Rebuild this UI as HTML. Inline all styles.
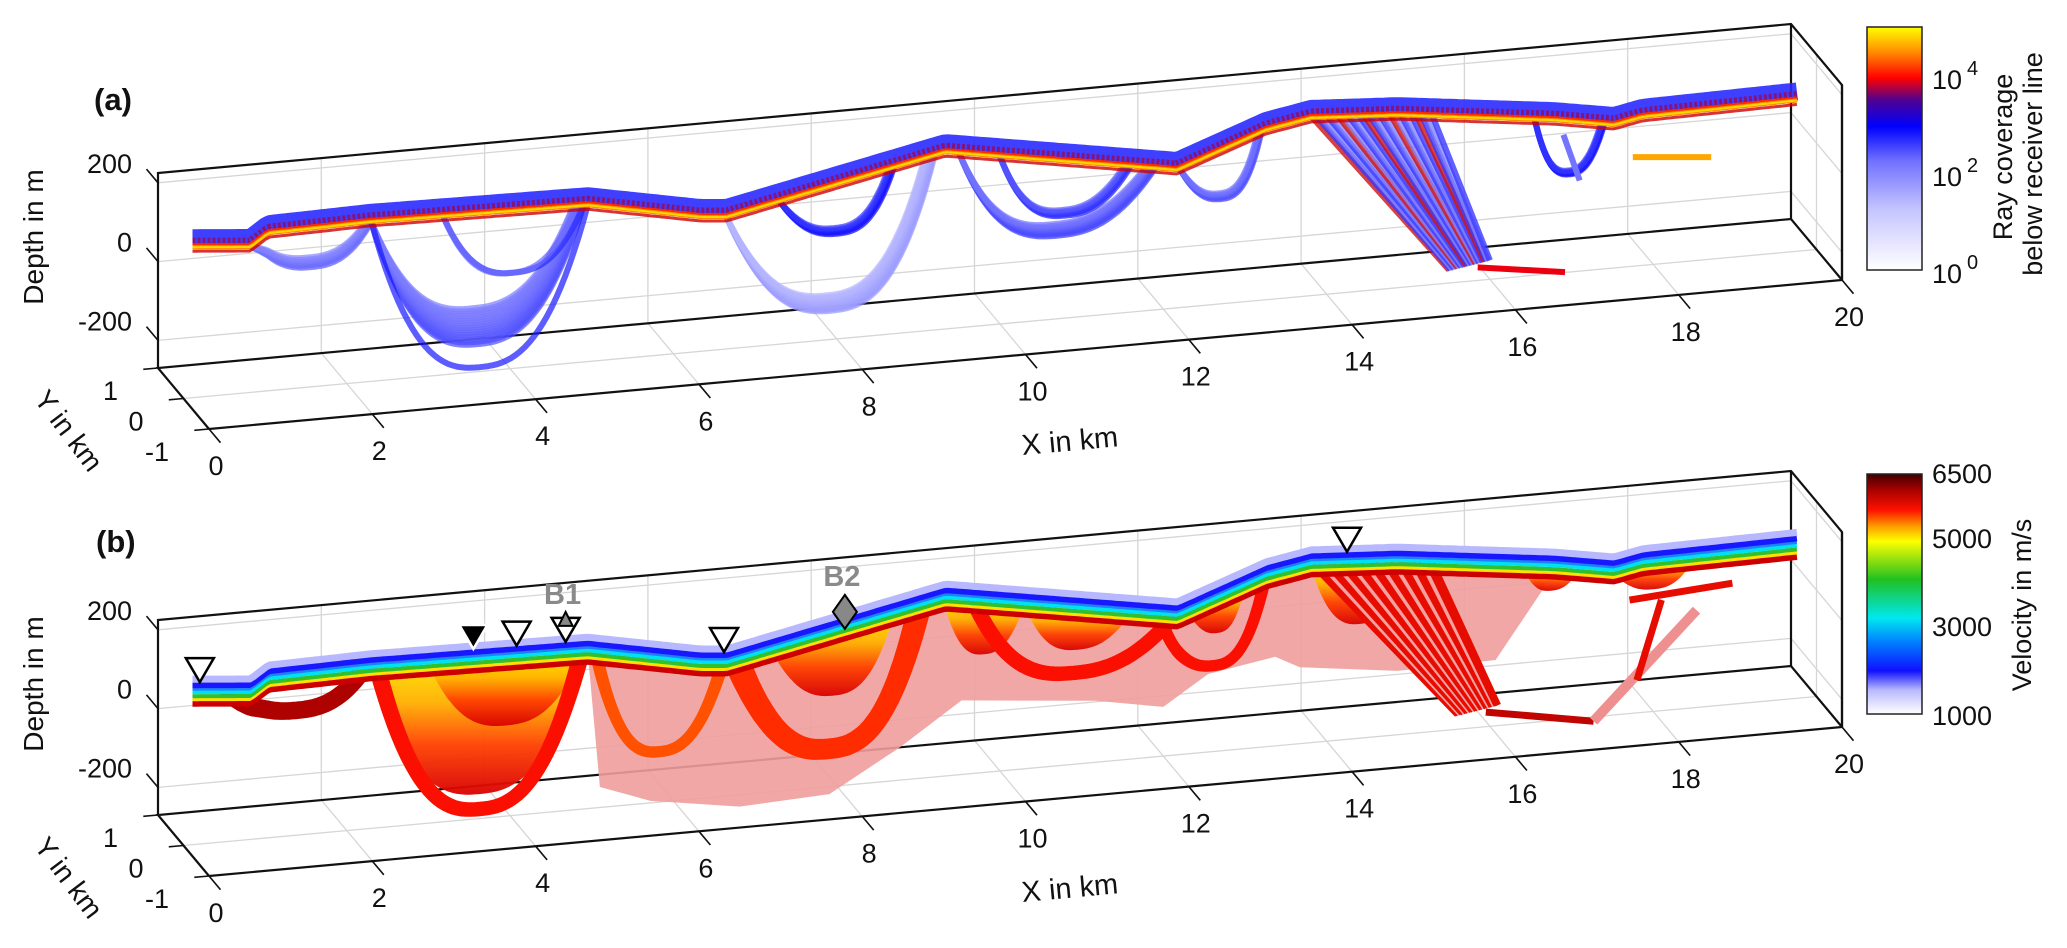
<!DOCTYPE html>
<html>
<head>
<meta charset="utf-8">
<style>
  html,body{margin:0;padding:0;background:#fff;}
  svg{display:block;}
  text{font-family:"Liberation Sans",Arial,sans-serif;fill:#111;}
</style>
</head>
<body>
<svg id="fig" width="2067" height="948" viewBox="0 0 2067 948" xmlns="http://www.w3.org/2000/svg">
  <defs>
    <linearGradient id="cbA" x1="0" y1="1" x2="0" y2="0">
      <stop offset="0" stop-color="#ffffff"/>
      <stop offset="0.25" stop-color="#c4c4ff"/>
      <stop offset="0.45" stop-color="#7070ff"/>
      <stop offset="0.59" stop-color="#0000ff"/>
      <stop offset="0.70" stop-color="#500090"/>
      <stop offset="0.79" stop-color="#ff0000"/>
      <stop offset="0.90" stop-color="#ff9000"/>
      <stop offset="1" stop-color="#ffff00"/>
    </linearGradient>
    <linearGradient id="cbB" x1="0" y1="1" x2="0" y2="0">
      <stop offset="0" stop-color="#ffffff"/>
      <stop offset="0.10" stop-color="#b8b8ff"/>
      <stop offset="0.18" stop-color="#1010ff"/>
      <stop offset="0.30" stop-color="#0080ff"/>
      <stop offset="0.40" stop-color="#00e8f0"/>
      <stop offset="0.56" stop-color="#20c020"/>
      <stop offset="0.72" stop-color="#ffff00"/>
      <stop offset="0.78" stop-color="#ffa000"/>
      <stop offset="0.85" stop-color="#ff1000"/>
      <stop offset="0.94" stop-color="#a00000"/>
      <stop offset="1" stop-color="#400000"/>
    </linearGradient>
    <linearGradient id="hot" x1="0" y1="0" x2="0" y2="1">
      <stop offset="0" stop-color="#ffee00"/>
      <stop offset="0.35" stop-color="#ffb000"/>
      <stop offset="0.65" stop-color="#ff4000"/>
      <stop offset="1" stop-color="#d80000"/>
    </linearGradient>
  </defs>

  <g id="panelA"></g>
  <g id="panelB"></g>

  <text x="94" y="110" font-size="31" font-weight="bold">(a)</text>
  <text x="96" y="552" font-size="31" font-weight="bold">(b)</text>

  <text transform="translate(43,237) rotate(-90)" text-anchor="middle" font-size="28">Depth in m</text>
  <text transform="translate(43,684) rotate(-90)" text-anchor="middle" font-size="28">Depth in m</text>

  <text transform="translate(67,432) rotate(53)" text-anchor="middle" dominant-baseline="middle" font-size="28">Y in km</text>
  <text transform="translate(67,879) rotate(53)" text-anchor="middle" dominant-baseline="middle" font-size="28">Y in km</text>

  <text transform="translate(1070,443) rotate(-5.2)" text-anchor="middle" dominant-baseline="middle" font-size="29">X in km</text>
  <text transform="translate(1070,890) rotate(-5.2)" text-anchor="middle" dominant-baseline="middle" font-size="29">X in km</text>

  <rect x="1867" y="27" width="55" height="243" fill="url(#cbA)" stroke="#222" stroke-width="1.5"/>
  <g font-size="27">
    <text x="1932" y="283">10<tspan font-size="20" dy="-14" dx="5">0</tspan></text>
    <text x="1932" y="186">10<tspan font-size="20" dy="-14" dx="5">2</tspan></text>
    <text x="1932" y="89">10<tspan font-size="20" dy="-14" dx="5">4</tspan></text>
  </g>
  <text transform="translate(2012,157) rotate(-90)" text-anchor="middle" font-size="27">Ray coverage</text>
  <text transform="translate(2042,164) rotate(-90)" text-anchor="middle" font-size="27">below receiver line</text>

  <rect x="1867" y="474" width="55" height="240" fill="url(#cbB)" stroke="#222" stroke-width="1.5"/>
  <g font-size="27">
    <text x="1932" y="483">6500</text>
    <text x="1932" y="548">5000</text>
    <text x="1932" y="636">3000</text>
    <text x="1932" y="725">1000</text>
  </g>
  <text transform="translate(2031,605) rotate(-90)" text-anchor="middle" font-size="27">Velocity in m/s</text>
</svg>

<script>
const surfX = [0.11, 0.82, 1.04, 2.29, 4.95, 6.33, 6.65, 9.33, 12.17, 13.26, 13.81, 14.87, 16.79, 17.52, 17.87, 19.79];
const surfZ = [112, 99, 130, 135, 127, 71, 65, 179, 80, 161, 181, 168, 119, 93, 107, 113];

const xTicks = [0, 2, 4, 6, 8, 10, 12, 14, 16, 18, 20];
const yTicks = [1, 0, -1];
const zTicks = [-200, 0, 200];

const fanAX0 = [0.82, 2.3, 2.3, 3.18, 6.65, 7.3, 9.5, 10.0, 12.2, 16.55];
const fanAX1 = [2.3, 4.9, 4.95, 4.9, 9.2, 8.7, 11.9, 11.6, 13.2, 17.4];
const fanAZb = [34, -200, -259, -27, -197, -3, -59, -10, -4, -22];
const fanASpread = [25, 92, 0, 0, 40, 15, 30, 15, 15, 10];
const fanAN = [6, 16, 1, 2, 12, 5, 8, 5, 5, 5];
const fanALogCov = [2.0, 2.1, 2.4, 2.3, 1.4, 2.6, 2.2, 2.4, 2.2, 2.6];

const rayAX0a = [13.83];
const rayAX0b = [15.3];
const rayAXb = [15.85];
const rayAZb = [-237];
const rayAN = [24];
const rayALogCov = [2.0];

const segAX0 = [15.85, 17.75, 16.9];
const segAX1 = [16.92, 18.71, 17.1];
const segAZ0 = [-237, 7, 80];
const segAZ1 = [-269, -11, -40];
const segALogCov = [3.9, 4.6, 2.2];

const pinkX = [4.95, 5.1, 5.72, 6.81, 7.91, 8.78, 9.53, 11.17, 12.0, 12.55, 13.37, 13.67, 14.87, 16.07, 16.67];
const pinkZ = [127, -218, -265, -300, -289, -186, -82, -114, -145, -72, -44, -76, -108, -103, 71];

const uBX0 = [2.3, 3.0, 7.2, 9.3, 10.3, 12.3, 13.8, 16.4, 17.5];
const uBX1 = [4.95, 4.9, 8.7, 10.3, 11.6, 13.0, 15.0, 17.1, 18.5];
const uBZb = [-208, -40, -40, 30, 20, 30, 20, 60, 40];

const arcBX0 = [0.45, 2.3, 6.65, 5.0, 9.6, 11.9];
const arcBX1 = [2.3, 4.95, 9.14, 6.65, 12.2, 13.3];
const arcBZb = [31, -258, -194, -150, -50, -60];
const arcBV = [6100, 5700, 5600, 5500, 5700, 5700];
const arcBN = [5, 4, 6, 3, 4, 3];

const rayBX0a = [13.83];
const rayBX0b = [15.3];
const rayBXb = [15.95];
const rayBZb = [-233];
const rayBN = [26];
const rayBV = [5800];

const segBX0 = [15.95, 17.27, 17.71, 18.1];
const segBX1 = [17.27, 18.53, 18.97, 17.8];
const segBZ0 = [-233, -281, 18, 11];
const segBZ1 = [-281, -23, 37, -187];
const segBV = [6000, 5300, 5800, 5800];
const segBPale = [0, 1, 0, 0];

const recvX = [0.2, 3.55, 4.08, 4.68, 6.62, 14.25];
const recvType = ['open', 'filled', 'open', 'open', 'open', 'open'];
const boreholeX = [4.68, 8.1];
const boreholeName = ['B1', 'B2'];

const NS = 'http://www.w3.org/2000/svg';
const Z0 = -270, Z1 = 225;
const OFF_B = 447;
function P(x, y, z, off) {
  return [158 + 81.65 * x + 25.5 * (1 - y), 368 + off - 7.45 * x + 30.5 * (1 - y) - (z - Z0) * 0.394];
}
function surfAt(x) {
  if (x <= surfX[0]) return surfZ[0];
  for (let i = 1; i < surfX.length; i++) {
    if (x <= surfX[i]) { const t = (x - surfX[i-1]) / (surfX[i] - surfX[i-1]); return surfZ[i-1] + t * (surfZ[i] - surfZ[i-1]); }
  }
  return surfZ[surfZ.length - 1];
}
function mk(tag, attrs, parent) {
  const e = document.createElementNS(NS, tag);
  for (const k in attrs) e.setAttribute(k, attrs[k]);
  parent.appendChild(e);
  return e;
}
function f(n) { return n.toFixed(1); }
function lineD(pts) { return 'M' + pts.map(p => f(p[0]) + ',' + f(p[1])).join('L'); }
function lerpStops(stops, t) {
  t = Math.max(0, Math.min(1, t));
  for (let i = 1; i < stops.length; i++) {
    if (t <= stops[i][0]) {
      const a = stops[i-1], b = stops[i], u = (t - a[0]) / (b[0] - a[0]);
      const c = a[1].map((v, k) => Math.round(v + u * (b[1][k] - v)));
      return 'rgb(' + c.join(',') + ')';
    }
  }
  return 'rgb(' + stops[stops.length-1][1].join(',') + ')';
}
const stopsA = [[0,[255,255,255]],[0.25,[196,196,255]],[0.45,[112,112,255]],[0.59,[0,0,255]],[0.70,[80,0,144]],[0.79,[255,0,0]],[0.90,[255,144,0]],[1,[255,255,0]]];
const stopsB = [[0,[255,255,255]],[0.10,[184,184,255]],[0.18,[16,16,255]],[0.30,[0,128,255]],[0.40,[0,232,240]],[0.56,[32,192,32]],[0.72,[255,255,0]],[0.78,[255,160,0]],[0.85,[255,16,0]],[0.94,[160,0,0]],[1,[64,0,0]]];
function cmapA(logc) { return lerpStops(stopsA, logc / 5); }
function cmapB(v) { return lerpStops(stopsB, (v - 1000) / 5500); }

function arcPts(x0, x1, zb, off) {
  const pts = [];
  for (let i = 0; i <= 48; i++) {
    const t = i / 48, x = x0 + (x1 - x0) * t;
    const s = 1 - Math.pow(Math.abs(2 * t - 1), 2.6);
    const z = surfAt(x) * (1 - s) + zb * s;
    pts.push(P(x, 0, z, off));
  }
  return pts;
}
function surfPts(off, x0, x1) {
  const pts = [];
  const a = x0 === undefined ? surfX[0] : x0, b = x1 === undefined ? surfX[surfX.length-1] : x1;
  for (let x = a; x <= b + 1e-6; x += 0.05) pts.push(P(x, 0, surfAt(x), off));
  return pts;
}

function drawAxes(g, off, suffix) {
  const grid = mk('g', {stroke: '#d6d6d6', 'stroke-width': 1.3, fill: 'none'}, g);
  
  
  xTicks.forEach(x => {
    if (x > 0 && x < 20) {
      mk('path', {d: lineD([P(x,1,Z0,off), P(x,1,Z1,off)])}, grid);
      mk('path', {d: lineD([P(x,1,Z0,off), P(x,-1,Z0,off)])}, grid);
    }
  });
  zTicks.forEach(z => {
    mk('path', {d: lineD([P(0,1,z,off), P(20,1,z,off), P(20,-1,z,off)])}, grid);
  });
  mk('path', {d: lineD([P(0,0,Z0,off), P(20,0,Z0,off), P(20,0,Z1,off)])}, grid);

  const box = mk('g', {stroke: '#111', 'stroke-width': 2.2, fill: 'none'}, g);
  
  
  mk('path', {d: lineD([P(0,1,Z0,off), P(0,1,Z1,off), P(20,1,Z1,off), P(20,-1,Z1,off), P(20,-1,Z0,off)])}, box);
  mk('path', {d: lineD([P(0,-1,Z0,off), P(0,1,Z0,off), P(20,1,Z0,off), P(20,-1,Z0,off)])}, box);
  mk('path', {d: lineD([P(20,1,Z0,off), P(20,1,Z1,off)])}, box);
  return box;
}
function drawFront(g, off, suffix) {
  const fr = mk('g', {stroke: '#111', 'stroke-width': 2.2, fill: 'none'}, g);
  
  
  mk('path', {d: lineD([P(0,-1,Z0,off), P(20,-1,Z0,off), P(20,-1,Z1,off)])}, fr);
  const labels = mk('g', {'font-size': 27}, g);
  
  
  xTicks.forEach(x => {
    const a = P(x,-1,Z0,off), b = P(x,-1.45,Z0,off);
    mk('path', {d: lineD([a,b]), stroke: '#111', 'stroke-width': 1.6}, fr);
    const t = mk('text', {x: f(a[0] + 7), y: f(a[1] + 46), 'text-anchor': 'middle'}, labels);
    
    
    t.textContent = x;
  });
  yTicks.forEach(y => {
    const a = P(0,y,Z0,off), b = P(-0.18,y,Z0,off);
    mk('path', {d: lineD([a,b]), stroke: '#111', 'stroke-width': 1.6}, fr);
    const t = mk('text', {x: f(a[0] - 40), y: f(a[1] + 32), 'text-anchor': 'end'}, labels);
    
    
    t.textContent = y;
  });
  zTicks.forEach(z => {
    const a = P(0,1,z,off), b = P(0,1.45,z,off);
    mk('path', {d: lineD([a,b]), stroke: '#111', 'stroke-width': 1.6}, fr);
    const t = mk('text', {x: f(a[0] - 26), y: f(a[1] - 10), 'text-anchor': 'end'}, labels);
    
    
    t.textContent = z;
  });
}

// panel (a)
const gA = document.getElementById('panelA');
drawAxes(gA, 0, 'a');
const dA = mk('g', {fill: 'none', 'stroke-linejoin': 'round'}, gA);



for (let i = 0; i < fanAX0.length; i++) {
  for (let k = 0; k < fanAN[i]; k++) {
    const frac = fanAN[i] > 1 ? k / (fanAN[i] - 1) : 0;
    const zb = fanAZb[i] + fanASpread[i] * frac;
    const x1 = fanAX1[i] - (fanAX1[i] - fanAX0[i]) * 0.05 * frac;
    const p = mk('path', {d: lineD(arcPts(fanAX0[i], x1, zb, 0)), stroke: cmapA(fanALogCov[i] + 0.4 * (1 - frac)), 'stroke-width': 6, opacity: 0.7}, dA);
    
    
  }
}
for (let i = 0; i < rayAX0a.length; i++) {
  for (let k = 0; k < rayAN[i]; k++) {
    const t = k / (rayAN[i] - 1);
    const xs = rayAX0a[i] + (rayAX0b[i] - rayAX0a[i]) * t;
    const xe = rayAXb[i] - 0.35 + 0.5 * t;
    const p = mk('path', {d: lineD([P(xs,0,surfAt(xs),0), P(xe,0,rayAZb[i] + 15 * t,0)]), stroke: k % 5 === 0 ? '#d01010' : cmapA(rayALogCov[i] + 0.6 * (k % 2)), 'stroke-width': 6, opacity: 0.8}, dA);
    
    
  }
}
for (let i = 0; i < segAX0.length; i++) {
  const p = mk('path', {d: lineD([P(segAX0[i],0,segAZ0[i],0), P(segAX1[i],0,segAZ1[i],0)]), stroke: cmapA(segALogCov[i]), 'stroke-width': 6}, dA);
  
  
}
const sA = lineD(surfPts(0));
const bandA = mk('g', {fill: 'none', 'stroke-linejoin': 'round'}, gA);


[[ -9, 18, '#2a2aff', 0.9, ''], [-5, 9, '#8a1070', 0.9, '3 2'], [-1, 6, '#ff2a00', 1, ''], [0, 4, '#ff8c00', 1, ''], [0, 2, '#ffd800', 1, ''], [4, 3, '#d00000', 0.8, '']].forEach(b => {
  const p = mk('path', {d: sA, transform: 'translate(0,' + b[0] + ')', stroke: b[2], 'stroke-width': b[1], opacity: b[3]}, bandA);
  if (b[4]) p.setAttribute('stroke-dasharray', b[4]);
  
  
});
drawFront(gA, 0, 'a');

// panel (b)
const gB = document.getElementById('panelB');
drawAxes(gB, OFF_B, 'b');
const dB = mk('g', {'stroke-linejoin': 'round'}, gB);



(function () {
  const top = surfPts(OFF_B, pinkX[0], pinkX[pinkX.length-1]);
  const bot = pinkX.map((x, i) => P(x, 0, pinkZ[i], OFF_B)).reverse();
  const p = mk('path', {d: lineD(top.concat(bot)) + 'Z', fill: '#f19d9d', opacity: 0.9}, dB);
  
  
})();
for (let i = 0; i < uBX0.length; i++) {
  const arc = arcPts(uBX0[i], uBX1[i], uBZb[i], OFF_B);
  const p = mk('path', {d: lineD(arc) + 'Z', fill: 'url(#hot)', opacity: 0.95}, dB);
  
  
}
for (let i = 0; i < arcBX0.length; i++) {
  for (let k = 0; k < arcBN[i]; k++) {
    const p = mk('path', {d: lineD(arcPts(arcBX0[i] + 0.05 * k, arcBX1[i] - 0.05 * k, arcBZb[i] + 8 * k, OFF_B)), fill: 'none', stroke: cmapB(arcBV[i]), 'stroke-width': 5}, dB);
    
    
  }
}
for (let i = 0; i < rayBX0a.length; i++) {
  for (let k = 0; k < rayBN[i]; k++) {
    const t = k / (rayBN[i] - 1);
    const xs = rayBX0a[i] + (rayBX0b[i] - rayBX0a[i]) * t;
    const xe = rayBXb[i] - 0.35 + 0.5 * t;
    const p = mk('path', {d: lineD([P(xs,0,surfAt(xs),OFF_B), P(xe,0,rayBZb[i] + 15 * t,OFF_B)]), fill: 'none', stroke: k % 3 === 2 ? '#f3a0a0' : cmapB(rayBV[i]), 'stroke-width': 6}, dB);
    
    
  }
}
for (let i = 0; i < segBX0.length; i++) {
  const p = mk('path', {d: lineD([P(segBX0[i],0,segBZ0[i],OFF_B), P(segBX1[i],0,segBZ1[i],OFF_B)]), fill: 'none', stroke: segBPale[i] ? '#ee9090' : cmapB(segBV[i]), 'stroke-width': segBPale[i] ? 10 : 7}, dB);
  
  
}
const sB = lineD(surfPts(OFF_B));
const bandB = mk('g', {fill: 'none', 'stroke-linejoin': 'round'}, gB);


[[9, 7, '#cc0000'], [5, 4, '#ffe000'], [2, 4, '#30c030'], [-2, 4, '#00e0f0'], [-5, 3, '#2080ff'], [-9, 6, '#1818ff'], [-15, 7, '#b8b8ff']].forEach(b => {
  const p = mk('path', {d: sB, transform: 'translate(0,' + b[0] + ')', stroke: b[2], 'stroke-width': b[1]}, bandB);
  
  
});
const recG = mk('g', {}, gB);


for (let i = 0; i < recvX.length; i++) {
  const s = P(recvX[i], 0, surfAt(recvX[i]), OFF_B);
  const T = s[1] - 12, X = s[0];
  const p = mk('polygon', {points: [X, T, X - 14, T - 24, X + 14, T - 24].join(','), fill: recvType[i] === 'filled' ? '#000' : '#fff', stroke: recvType[i] === 'filled' ? '#fff' : '#000', 'stroke-width': 2.5}, recG);
  
  
}
for (let i = 0; i < boreholeX.length; i++) {
  const s = P(boreholeX[i], 0, surfAt(boreholeX[i]), OFF_B);
  const X = s[0];
  let top;
  if (i === 0) {
    const T = s[1] - 12;
    const p = mk('polygon', {points: [X, T - 30, X - 7, T - 16, X + 7, T - 16].join(','), fill: '#888', stroke: '#000', 'stroke-width': 2}, recG);
    
    
    top = T - 38;
  } else {
    const C = s[1] - 17;
    const p = mk('polygon', {points: [X, C - 17, X + 12, C, X, C + 17, X - 12, C].join(','), fill: '#888', stroke: '#000', 'stroke-width': 2}, recG);
    
    
    top = C - 26;
  }
  const t = mk('text', {x: f(X - 3), y: f(top), 'text-anchor': 'middle', 'font-size': 29, 'font-weight': 'bold', style: 'fill:#8a8a8a'}, recG);
  
  
  t.textContent = boreholeName[i];
}
drawFront(gB, OFF_B, 'b');
</script>
</body>
</html>
